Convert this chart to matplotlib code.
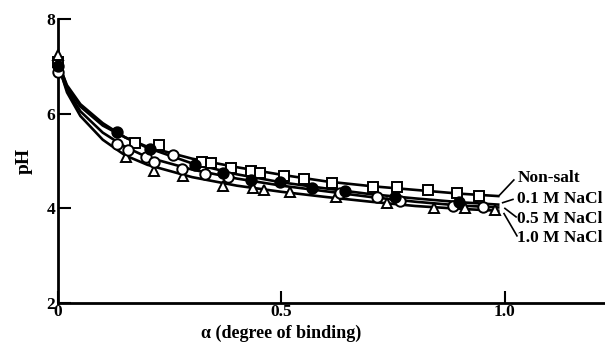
import matplotlib
matplotlib.use("Agg")
import matplotlib.pyplot as plt

plt.rcParams['font.family'] = ['Liberation Serif', 'DejaVu Serif']
plt.rcParams['font.weight'] = 'bold'
plt.rcParams['axes.labelweight'] = 'bold'

# measured points (alpha, pH)
sq_a = [0.0, 0.172, 0.226, 0.322, 0.342, 0.387, 0.432, 0.452, 0.506, 0.55, 0.613, 0.705, 0.758, 0.828, 0.893, 0.942]
sq_ph = [7.1, 5.39, 5.33, 4.99, 4.95, 4.86, 4.80, 4.74, 4.69, 4.62, 4.54, 4.45, 4.45, 4.38, 4.32, 4.27]

fc_a = [0.0, 0.132, 0.206, 0.306, 0.369, 0.432, 0.497, 0.568, 0.642, 0.754, 0.897]
fc_ph = [7.0, 5.62, 5.26, 4.92, 4.74, 4.61, 4.55, 4.42, 4.36, 4.24, 4.13]

oc_a = [0.0, 0.132, 0.157, 0.197, 0.215, 0.257, 0.277, 0.329, 0.38, 0.631, 0.713, 0.765, 0.884, 0.951]
oc_ph = [6.88, 5.37, 5.24, 5.09, 4.97, 5.12, 4.84, 4.72, 4.67, 4.32, 4.23, 4.16, 4.06, 4.02]

tr_a = [0.0, 0.152, 0.215, 0.28, 0.369, 0.436, 0.461, 0.519, 0.622, 0.736, 0.841, 0.91, 0.978]
tr_ph = [7.25, 5.09, 4.80, 4.69, 4.48, 4.42, 4.38, 4.34, 4.23, 4.12, 4.0, 4.0, 3.96]

# fitted curves
curve_a = [0.005, 0.02, 0.05, 0.1, 0.15, 0.2, 0.3, 0.4, 0.5, 0.6, 0.7, 0.8, 0.9, 0.985]
curve_nonsalt = [7.0, 6.55, 6.15, 5.75, 5.5, 5.3, 5.05, 4.87, 4.71, 4.57, 4.47, 4.39, 4.31, 4.26]
curve_01 = [6.95, 6.6, 6.2, 5.8, 5.5, 5.28, 4.95, 4.72, 4.55, 4.42, 4.3, 4.21, 4.13, 4.08]
curve_05 = [6.88, 6.5, 6.05, 5.6, 5.3, 5.08, 4.82, 4.63, 4.48, 4.36, 4.24, 4.14, 4.06, 4.02]
curve_10 = [6.9, 6.45, 5.95, 5.45, 5.12, 4.92, 4.66, 4.48, 4.35, 4.24, 4.14, 4.05, 3.99, 3.95]

labels = ["Non-salt", "0.1 M NaCl", "0.5 M NaCl", "1.0 M NaCl"]

fig = plt.figure(figsize=(6.05, 3.52), dpi=100)
ax = fig.add_axes([0.096, 0.139, 0.904, 0.807])

for c in [curve_nonsalt, curve_01, curve_05, curve_10]:
    ax.plot(curve_a, c, color='black', lw=1.9, zorder=2)

mk = dict(ls='none', markersize=7.5, markeredgecolor='black', markeredgewidth=1.4, zorder=3, clip_on=False)
ax.plot(sq_a, sq_ph, marker='s', markerfacecolor='white', **mk)
ax.plot(tr_a, tr_ph, marker='^', markerfacecolor='white', **mk)
ax.plot(oc_a, oc_ph, marker='o', markerfacecolor='white', **mk)
ax.plot(fc_a, fc_ph, marker='o', markerfacecolor='black', **mk)

# curve labels with leader lines
leaders = [((0.987, 4.27), (1.020, 4.60)),
           ((0.995, 4.12), (1.018, 4.19)),
           ((1.0, 4.0), (1.025, 3.82)),
           ((0.998, 3.89), (1.027, 3.42))]
text_y = [4.65, 4.19, 3.77, 3.37]
for (p0, p1), ty, lab in zip(leaders, text_y, labels):
    ax.plot([p0[0], p1[0]], [p0[1], p1[1]], color='black', lw=1.2)
    ax.text(1.028, ty, lab, fontsize=12.5, va='center', ha='left', clip_on=False)

ax.set_xlim(0, 1.224)
ax.set_ylim(2, 8)
ax.set_xticks([0, 0.5, 1.0])
ax.set_xticklabels(["0", "0.5", "1.0"])
ax.set_yticks([2, 4, 6, 8])
ax.tick_params(direction='in', length=9, width=1.5, labelsize=12.5, pad=1)
ax.tick_params(axis='y', pad=2)
for s in ['top', 'right']:
    ax.spines[s].set_visible(False)
for s in ['left', 'bottom']:
    ax.spines[s].set_linewidth(2)

ax.set_xlabel("α (degree of binding)", fontsize=13)
ax.xaxis.set_label_coords(0.5 / 1.224, -0.075)
ax.set_ylabel("pH", fontsize=14, labelpad=10)

fig.savefig("out.png", dpi=100)
